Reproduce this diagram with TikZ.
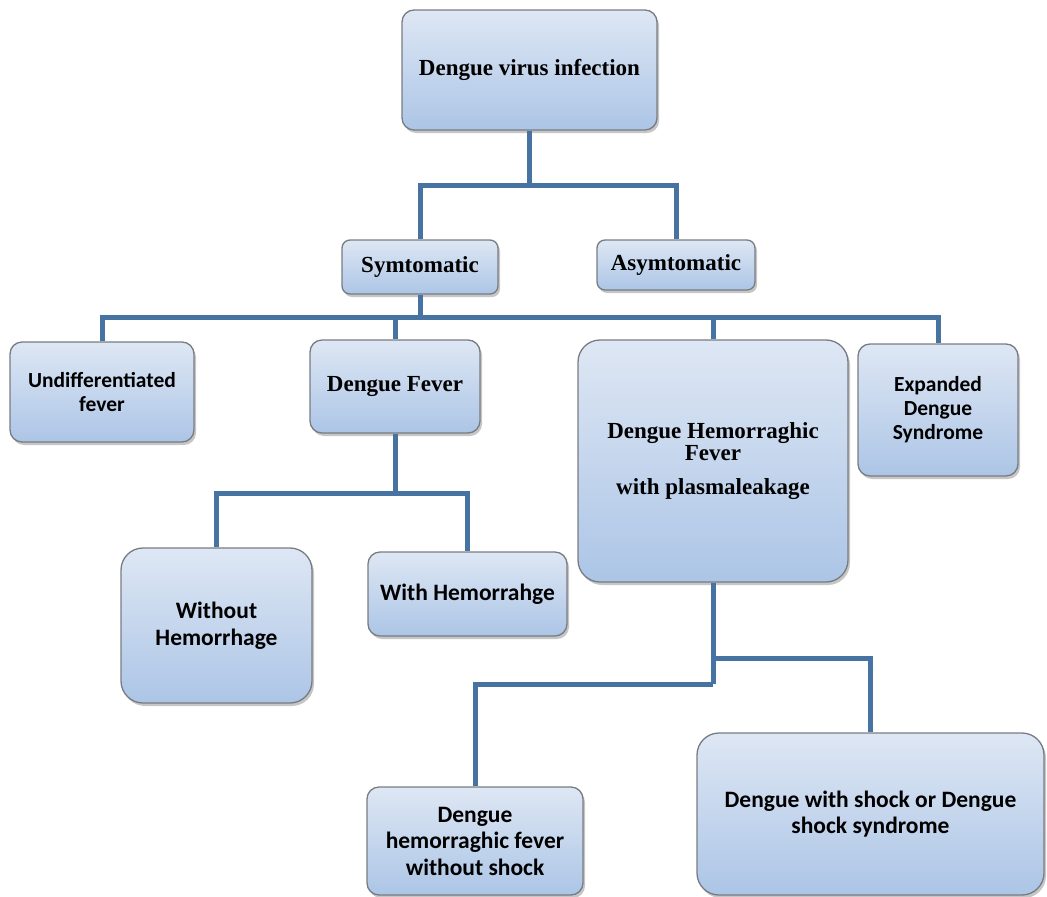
\documentclass[tikz,border=0pt]{standalone}
\usepackage{fontspec}
\usetikzlibrary{shadows}
\newfontfamily\serifb{Liberation Serif}
\newfontfamily\sansb{Carlito}
\definecolor{linkc}{RGB}{70,115,162}
\definecolor{boxtop}{RGB}{222,231,244}
\definecolor{boxbot}{RGB}{172,197,230}
\definecolor{boxline}{RGB}{120,124,130}
\tikzset{
  box/.style={draw=boxline, line width=1.3pt, rounded corners=12pt,
    top color=boxtop, bottom color=boxbot, align=center, inner sep=0pt,
    drop shadow={opacity=0.45, shadow xshift=2pt, shadow yshift=-3pt}},
  bigbox/.style={box, rounded corners=22pt},
  serifbox/.style={font=\serifb\bfseries\fontsize{23}{22}\selectfont},
  sansbox/.style={font=\sansb\bfseries\fontsize{23.5}{26.5}\selectfont},
  sanssmall/.style={font=\sansb\bfseries\fontsize{21.5}{24}\selectfont},
  link/.style={draw=linkc, line width=5pt, line join=miter}
}
\begin{document}
\begin{tikzpicture}[x=1pt,y=-1pt]
\useasboundingbox (0,0) rectangle (1047,897);
\coordinate (j1) at (529.5,185);
\coordinate (j2) at (420,317);
\coordinate (j3) at (395,493);
\coordinate (j4a) at (713,684);
\coordinate (j4b) at (713,658);
% boxes
\node[box, serifbox, minimum width=255pt, minimum height=120pt] (top) at (529.5,70) {Dengue virus infection};
\node[box, rounded corners=8pt, serifbox, minimum width=156pt, minimum height=54pt] (sym) at (420,267) {Symtomatic};
\node[box, rounded corners=8pt, serifbox, minimum width=158pt, minimum height=50pt] (asym) at (676,265) {Asymtomatic};
\node[box, sanssmall, minimum width=184pt, minimum height=100pt] (undiff) at (102,392) {Undifferentiated\\fever};
\node[box, serifbox, minimum width=170pt, minimum height=93pt] (df) at (395,386.5) {Dengue Fever};
\node[bigbox, serifbox, minimum width=270pt, minimum height=242pt] (dhf) at (713,461) {Dengue Hemorraghic\\Fever\\[12pt]with plasmaleakage};
\node[box, sanssmall, minimum width=160pt, minimum height=132pt] (eds) at (938,410) {Expanded\\Dengue\\Syndrome};
\node[bigbox, sansbox, minimum width=191pt, minimum height=155pt] (woh) at (216.5,625.5) {Without\\Hemorrhage};
\node[box, sansbox, minimum width=199pt, minimum height=84pt] (wh) at (467.5,594) {With Hemorrahge};
\node[box, sansbox, minimum width=216pt, minimum height=108pt] (dhfws) at (475,841) {Dengue\\hemorraghic fever\\without shock};
\node[bigbox, sansbox, minimum width=347pt, minimum height=162pt] (dss) at (870.5,814) {Dengue with shock or Dengue\\shock syndrome};
% links
\draw[link] (top.south) -- (j1);
\draw[link] (sym.north) |- (j1) -| (asym.north);
\draw[link] (sym.south) -- (j2);
\draw[link] (undiff.north) |- (j2) -| (eds.north);
\draw[link] (df.north) |- (j2);
\draw[link] (dhf.north) |- (j2);
\draw[link] (df.south) -- (j3);
\draw[link] (woh.north) |- (j3) -| (wh.north);
\draw[link] (dhf.south) -- (j4a);
\draw[link] (dhfws.north) |- (j4a);
\draw[link] (j4b) -| (dss.north);
\end{tikzpicture}
\end{document}
